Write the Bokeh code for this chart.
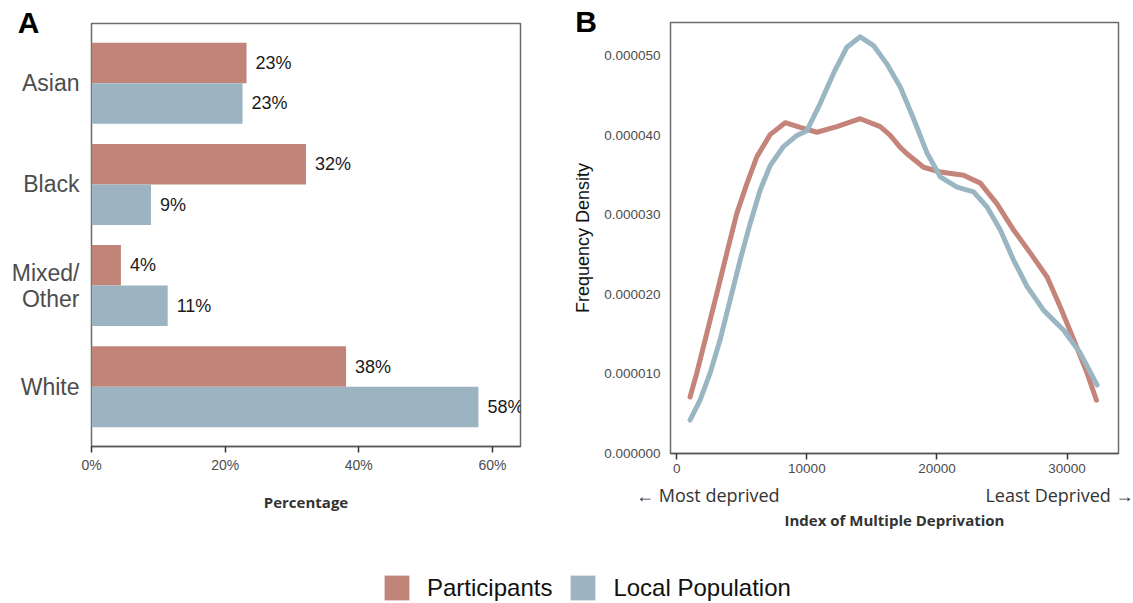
from bokeh.plotting import figure
from bokeh.layouts import row, column
from bokeh.models import (Range1d, FixedTicker, PrintfTickFormatter, LinearAxis,
                          Title, Legend, LegendItem, ColumnDataSource)
from bokeh.core.properties import value
from bokeh.embed import file_html
from bokeh.resources import INLINE

# ---------------- data ----------------
categories = ["Asian", "Black", "Mixed/\nOther", "White"]
participants_pct = [23.2, 32.1, 4.4, 38.1]
local_pct = [22.6, 8.9, 11.4, 57.9]
pct_ticks = [0, 20, 40, 60]

imd_participants = [1023, 1538, 2308, 3077, 3846, 4615, 5385, 6154, 7177, 8331, 9485,
                    10769, 12308, 14100, 15638, 16408, 17177, 17692, 18969, 20254, 22046,
                    23331, 24615, 25892, 27177, 28462, 29485, 30508, 31538, 32254]
density_participants = [0.71e-5, 1.01e-5, 1.51e-5, 2.01e-5, 2.52e-5, 3.02e-5, 3.39e-5,
                        3.73e-5, 4.01e-5, 4.16e-5, 4.10e-5, 4.04e-5, 4.11e-5, 4.21e-5,
                        4.11e-5, 4.00e-5, 3.85e-5, 3.77e-5, 3.60e-5, 3.54e-5, 3.50e-5,
                        3.40e-5, 3.14e-5, 2.81e-5, 2.52e-5, 2.22e-5, 1.84e-5, 1.43e-5,
                        1.01e-5, 0.67e-5]

imd_local = [1023, 1792, 2561, 3331, 4100, 4869, 5638, 6408, 7177, 8200, 9231, 10000,
             11023, 12046, 13077, 14100, 15123, 16146, 17177, 18200, 19231, 20254, 21538,
             22815, 23846, 24869, 25892, 26923, 28200, 29738, 31023, 32308]
density_local = [0.42e-5, 0.67e-5, 1.01e-5, 1.43e-5, 1.93e-5, 2.43e-5, 2.89e-5, 3.31e-5,
                 3.62e-5, 3.86e-5, 4.00e-5, 4.06e-5, 4.40e-5, 4.78e-5, 5.11e-5, 5.24e-5,
                 5.13e-5, 4.90e-5, 4.61e-5, 4.21e-5, 3.78e-5, 3.48e-5, 3.35e-5, 3.29e-5,
                 3.10e-5, 2.81e-5, 2.43e-5, 2.10e-5, 1.80e-5, 1.55e-5, 1.26e-5, 0.86e-5]
density_ticks = [0, 1e-5, 2e-5, 3e-5, 4e-5, 5e-5]
imd_ticks = [0, 10000, 20000, 30000]
imd_direction_pos = [2390, 29560]
imd_direction_labels = ["\u2190 Most deprived", "Least Deprived \u2192"]

series_names = ["Participants", "Local Population"]

# ---------------- styling ----------------
PART_BAR = "#C08479"
LOCAL_BAR = "#9CB4C1"
PART_LINE = "#C5847A"
LOCAL_LINE = "#9AB6C3"
TICK_GREY = "#4d4d4d"
FONT = "Liberation Sans"


def base_style(p):
    p.xgrid.visible = False
    p.ygrid.visible = False
    p.outline_line_color = "#6b6b6b"
    p.outline_line_width = 1.5
    p.background_fill_color = "white"
    p.border_fill_color = "white"
    p.frame_align = False


def panel_letter(letter, offset):
    # bold panel tag sitting in the top-left corner, level with the frame top
    return Title(text=letter, align="left", vertical_align="middle", offset=offset,
                 standoff=-33, text_font=FONT, text_font_style="bold",
                 text_font_size="30px", text_color="black")


# ---------------- panel A: ethnicity bars ----------------
n = len(categories)
pos = [n - i for i in range(n)]
src = ColumnDataSource(dict(
    part_y=[v + 0.2 for v in pos],
    local_y=[v - 0.2 for v in pos],
    part=participants_pct,
    local=local_pct,
    part_lab=[f"{round(v)}%" for v in participants_pct],
    local_lab=[f"{round(v)}%" for v in local_pct],
))

pa = figure(width=560, height=540, x_range=Range1d(0, 64.2), y_range=Range1d(0.41, 4.59),
            output_backend="svg", toolbar_location=None,
            min_border_left=91, min_border_right=40, min_border_top=23, min_border_bottom=94)
base_style(pa)
pa.title = panel_letter("A", -73.7)
pa.hbar(y="part_y", right="part", left=0, height=0.4, fill_color=PART_BAR,
        line_color=None, source=src)
pa.hbar(y="local_y", right="local", left=0, height=0.4, fill_color=LOCAL_BAR,
        line_color=None, source=src)
for xcol, ycol, tcol in [("part", "part_y", "part_lab"), ("local", "local_y", "local_lab")]:
    pa.text(x=xcol, y=ycol, text=tcol, source=src, x_offset=9,
            text_baseline="middle", text_align="left",
            text_font=value(FONT), text_font_size="18px", text_color="#1a1a1a")

xa = pa.xaxis[0]
xa.ticker = FixedTicker(ticks=pct_ticks)
xa.formatter = PrintfTickFormatter(format="%d%%")
xa.minor_tick_line_color = None
xa.major_tick_out = 6
xa.major_tick_in = 0
xa.major_tick_line_color = "#333333"
xa.major_tick_line_width = 1.5
xa.axis_line_color = "#555555"
xa.axis_line_width = 1.5
xa.major_label_text_font = FONT
xa.major_label_text_font_size = "14px"
xa.major_label_text_color = TICK_GREY
xa.major_label_standoff = 4
xa.axis_label = "Percentage"
xa.axis_label_text_font = "Open Sans"
xa.axis_label_text_font_style = "bold"
xa.axis_label_text_font_size = "15px"
xa.axis_label_text_color = "#333333"
xa.axis_label_standoff = 16

ya = pa.yaxis[0]
ya.ticker = FixedTicker(ticks=pos)
ya.major_label_overrides = {p: c for p, c in zip(pos, categories)}
ya.major_tick_line_color = None
ya.minor_tick_line_color = None
ya.major_tick_out = 0
ya.axis_line_color = None
ya.major_label_text_font = FONT
ya.major_label_text_font_size = "23px"
ya.major_label_text_line_height = 1.0
ya.major_label_text_color = TICK_GREY
ya.major_label_standoff = 12

# ---------------- panel B: IMD density ----------------
pb = figure(width=573, height=540, x_range=Range1d(-480, 33950), y_range=Range1d(0, 5.42e-5),
            output_backend="svg", toolbar_location=None,
            min_border_left=110, min_border_right=15, min_border_top=22, min_border_bottom=87)
base_style(pb)
pb.title = panel_letter("B", -95.3)
pb.line(imd_participants, density_participants, line_color=PART_LINE, line_width=5,
        line_cap="round", line_join="round")
pb.line(imd_local, density_local, line_color=LOCAL_LINE, line_width=5,
        line_cap="round", line_join="round")

xb = pb.xaxis[0]
xb.ticker = FixedTicker(ticks=imd_ticks)
xb.minor_tick_line_color = None
xb.major_tick_out = 6
xb.major_tick_in = 0
xb.major_tick_line_color = "#333333"
xb.major_tick_line_width = 1.5
xb.axis_line_color = "#555555"
xb.axis_line_width = 1.5
xb.major_label_text_font = FONT
xb.major_label_text_font_size = "13.5px"
xb.major_label_text_color = TICK_GREY
xb.major_label_standoff = 4

yb = pb.yaxis[0]
yb.ticker = FixedTicker(ticks=density_ticks)
yb.formatter = PrintfTickFormatter(format="%.6f")
yb.minor_tick_line_color = None
yb.major_tick_line_color = None
yb.major_tick_out = 0
yb.axis_line_color = None
yb.major_label_text_font = FONT
yb.major_label_text_font_size = "13.5px"
yb.major_label_text_color = TICK_GREY
yb.major_label_standoff = 10
yb.axis_label = "Frequency Density"
yb.axis_label_text_font = FONT
yb.axis_label_text_font_style = "normal"
yb.axis_label_text_font_size = "18px"
yb.axis_label_text_color = "#111111"
yb.axis_label_standoff = 8

dir_axis = LinearAxis(
    ticker=FixedTicker(ticks=imd_direction_pos),
    major_label_overrides={p: t for p, t in zip(imd_direction_pos, imd_direction_labels)},
    major_tick_line_color=None, minor_tick_line_color=None, axis_line_color=None,
    major_tick_out=0, major_tick_in=0,
    major_label_text_font="Open Sans", major_label_text_font_size="18px",
    major_label_text_color="#333333", major_label_standoff=7,
    axis_label="Index of Multiple Deprivation", axis_label_text_font="Open Sans",
    axis_label_text_font_style="bold", axis_label_text_font_size="15px",
    axis_label_text_color="#333333", axis_label_standoff=0,
)
pb.add_layout(dir_axis, "below")

# ---------------- shared legend ----------------
pl = figure(width=1133, height=63, x_range=Range1d(0, 1), y_range=Range1d(0, 1),
            output_backend="svg", toolbar_location=None,
            x_axis_location=None, y_axis_location=None, min_border=0)
pl.xgrid.visible = False
pl.ygrid.visible = False
pl.outline_line_color = None
# swatch sources: one bar each, parked below the visible range
r_part = pl.hbar(y=[-5], right=[0.5], left=0, height=0.4, fill_color=PART_BAR, line_color=None)
r_local = pl.hbar(y=[-5], right=[0.5], left=0, height=0.4, fill_color=LOCAL_BAR, line_color=None)
legend = Legend(
    items=[LegendItem(label=series_names[0], renderers=[r_part]),
           LegendItem(label=series_names[1], renderers=[r_local])],
    orientation="horizontal", location=(381, 0),
    glyph_width=31, glyph_height=31, label_standoff=15, spacing=15,
    padding=0, margin=0, border_line_color=None, background_fill_alpha=0,
    label_text_font=FONT, label_text_font_size="24px", label_text_color="#111111",
    label_text_baseline="middle",
)
pl.add_layout(legend)

layout = column(row(pa, pb), pl)
open("out.html", "w").write(file_html(layout, INLINE))
